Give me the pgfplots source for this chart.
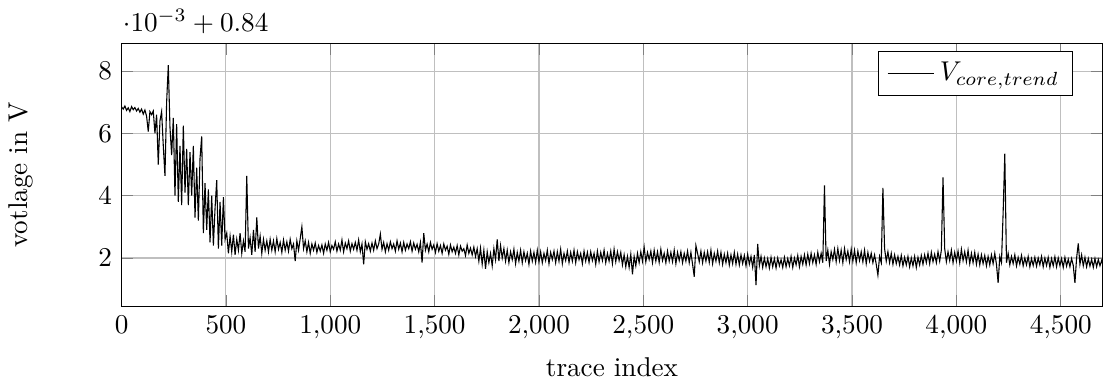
\documentclass[border=0pt]{standalone}
\usepackage{pgfplots}
\usepackage{pgfplotstable}
\pgfplotsset{compat=1.18}
\pgfplotstableread[row sep=\\]{
y\\
6.85\\6.78\\6.88\\6.74\\6.82\\6.70\\6.86\\6.76\\6.83\\6.72\\
6.80\\6.68\\6.78\\6.62\\6.75\\6.55\\6.06\\6.70\\6.60\\6.72\\
6.00\\6.60\\5.00\\6.40\\6.70\\5.60\\4.64\\7.00\\8.19\\6.20\\
5.30\\6.50\\4.00\\6.30\\3.80\\5.60\\3.70\\6.25\\4.10\\5.50\\
3.70\\5.40\\4.00\\5.60\\3.30\\4.90\\3.20\\5.20\\5.90\\2.80\\
4.40\\2.90\\4.20\\2.50\\4.00\\2.40\\3.60\\4.50\\2.30\\3.80\\
2.40\\3.95\\2.60\\2.80\\2.15\\2.70\\2.20\\2.75\\2.10\\2.60\\
2.25\\2.80\\2.15\\2.55\\2.20\\4.64\\2.30\\2.65\\2.10\\2.90\\
2.20\\3.30\\2.30\\2.70\\2.15\\2.60\\2.25\\2.55\\2.20\\2.60\\
2.25\\2.55\\2.20\\2.62\\2.28\\2.50\\2.18\\2.58\\2.25\\2.52\\
2.22\\2.60\\2.30\\2.45\\1.90\\2.55\\2.25\\2.62\\3.00\\2.30\\
2.55\\2.20\\2.50\\2.15\\2.45\\2.25\\2.48\\2.18\\2.40\\2.22\\
2.42\\2.15\\2.45\\2.25\\2.50\\2.20\\2.40\\2.28\\2.52\\2.22\\
2.45\\2.25\\2.58\\2.20\\2.48\\2.30\\2.55\\2.22\\2.46\\2.28\\
2.50\\2.25\\2.58\\2.20\\2.45\\1.80\\2.52\\2.28\\2.46\\2.22\\
2.48\\2.25\\2.55\\2.30\\2.45\\2.77\\2.28\\2.50\\2.20\\2.46\\
2.25\\2.52\\2.30\\2.45\\2.22\\2.55\\2.28\\2.48\\2.20\\2.50\\
2.25\\2.45\\2.30\\2.52\\2.22\\2.48\\2.28\\2.44\\2.20\\2.50\\
1.85\\2.80\\2.25\\2.45\\2.20\\2.50\\2.28\\2.42\\2.18\\2.46\\
2.22\\2.40\\2.15\\2.45\\2.25\\2.38\\2.12\\2.42\\2.20\\2.35\\
2.15\\2.40\\2.10\\2.38\\2.22\\2.30\\2.08\\2.42\\2.15\\2.32\\
2.10\\2.35\\2.05\\2.30\\1.90\\2.32\\1.80\\2.25\\1.65\\2.20\\
1.85\\2.15\\1.75\\2.30\\1.95\\2.60\\1.90\\2.40\\2.00\\2.30\\
1.90\\2.25\\1.85\\2.20\\1.95\\2.28\\1.82\\2.18\\1.90\\2.25\\
1.85\\2.20\\1.92\\2.15\\1.80\\2.22\\1.90\\2.18\\1.86\\2.25\\
1.88\\2.20\\1.85\\2.15\\1.92\\2.25\\1.82\\2.18\\1.95\\2.22\\
1.85\\2.20\\1.90\\2.28\\1.82\\2.15\\1.92\\2.22\\1.86\\2.18\\
1.90\\2.25\\1.85\\2.20\\1.95\\2.15\\1.82\\2.22\\1.90\\2.18\\
1.86\\2.20\\1.92\\2.15\\1.80\\2.22\\1.88\\2.18\\1.92\\2.25\\
1.85\\2.15\\1.90\\2.22\\1.82\\2.28\\1.88\\2.20\\1.92\\2.18\\
1.78\\2.10\\1.72\\2.05\\1.70\\2.12\\1.48\\2.05\\1.75\\2.15\\
1.85\\2.20\\1.90\\2.35\\1.88\\2.18\\1.95\\2.22\\1.85\\2.25\\
1.90\\2.20\\1.86\\2.28\\1.92\\2.15\\1.85\\2.22\\1.90\\2.18\\
1.88\\2.25\\1.82\\2.18\\1.92\\2.20\\1.85\\2.15\\1.90\\2.22\\
1.85\\2.18\\1.80\\1.40\\2.40\\2.15\\1.88\\2.22\\1.85\\2.18\\
1.90\\2.20\\1.86\\2.25\\1.82\\2.15\\1.90\\2.22\\1.85\\2.18\\
1.80\\2.12\\1.85\\2.15\\1.78\\2.10\\1.82\\2.18\\1.80\\2.12\\
1.78\\2.10\\1.82\\2.08\\1.75\\2.12\\1.80\\2.05\\1.70\\2.10\\
1.13\\2.45\\1.75\\2.05\\1.70\\2.00\\1.72\\1.98\\1.68\\2.02\\
1.72\\1.98\\1.68\\2.00\\1.75\\1.95\\1.70\\2.02\\1.72\\1.98\\
1.75\\2.05\\1.70\\2.00\\1.78\\2.08\\1.72\\2.05\\1.80\\2.10\\
1.78\\2.12\\1.82\\2.15\\1.85\\2.10\\1.80\\2.18\\1.88\\2.15\\
1.85\\4.33\\1.90\\2.25\\1.80\\2.20\\1.95\\2.28\\1.88\\2.30\\
1.92\\2.25\\1.85\\2.30\\1.95\\2.22\\1.88\\2.28\\1.90\\2.25\\
1.85\\2.22\\1.92\\2.20\\1.88\\2.25\\1.82\\2.18\\1.90\\2.15\\
1.85\\2.10\\1.80\\1.45\\2.05\\1.85\\4.25\\2.30\\1.90\\2.20\\
1.85\\2.15\\1.80\\2.10\\1.82\\2.05\\1.78\\2.08\\1.75\\2.02\\
1.78\\2.05\\1.72\\2.00\\1.75\\2.05\\1.70\\2.02\\1.78\\2.08\\
1.80\\2.10\\1.85\\2.15\\1.82\\2.18\\1.88\\2.12\\1.85\\2.20\\
1.90\\2.25\\4.59\\2.30\\1.88\\2.20\\1.92\\2.25\\1.85\\2.18\\
1.90\\2.22\\1.85\\2.28\\1.92\\2.20\\1.88\\2.25\\1.82\\2.15\\
1.85\\2.18\\1.80\\2.12\\1.78\\2.10\\1.82\\2.08\\1.75\\2.05\\
1.78\\2.10\\1.82\\2.15\\1.80\\1.20\\2.05\\1.85\\3.45\\5.35\\
1.85\\2.15\\1.78\\2.05\\1.82\\2.10\\1.75\\2.02\\1.80\\2.08\\
1.75\\2.00\\1.78\\2.05\\1.72\\1.98\\1.76\\2.02\\1.74\\2.00\\
1.78\\2.05\\1.72\\2.00\\1.76\\2.02\\1.70\\1.98\\1.75\\2.04\\
1.72\\2.00\\1.76\\1.98\\1.70\\2.02\\1.74\\1.96\\1.72\\1.98\\
1.76\\1.20\\2.00\\2.47\\1.80\\2.10\\1.75\\2.02\\1.72\\1.98\\
1.74\\1.96\\1.70\\1.98\\1.72\\1.95\\1.75\\1.92\\1.74\\
}\vcore
\begin{document}
\begin{tikzpicture}
\begin{axis}[
  scale only axis,
  width=361pt, height=97pt,
  xmin=0, xmax=4700,
  ymin=0.44, ymax=8.9,
  xtick={0,500,...,4500},
  ytick={2,4,6,8},
  grid=major,
  xlabel={trace index},
  ylabel={votlage in V},
  ylabel shift=17pt,
  legend pos=north east,
  legend cell align=left,
  clip mode=individual,
]
\addplot[black, line width=0.4pt] table[x expr=\coordindex*8, y=y] {\vcore};
\addlegendentry{$V_{core,trend}$}
\node[anchor=south west, xshift=-3pt] at (rel axis cs:0,1) {$\cdot 10^{-3}+0.84$};
\end{axis}
\end{tikzpicture}
\end{document}
